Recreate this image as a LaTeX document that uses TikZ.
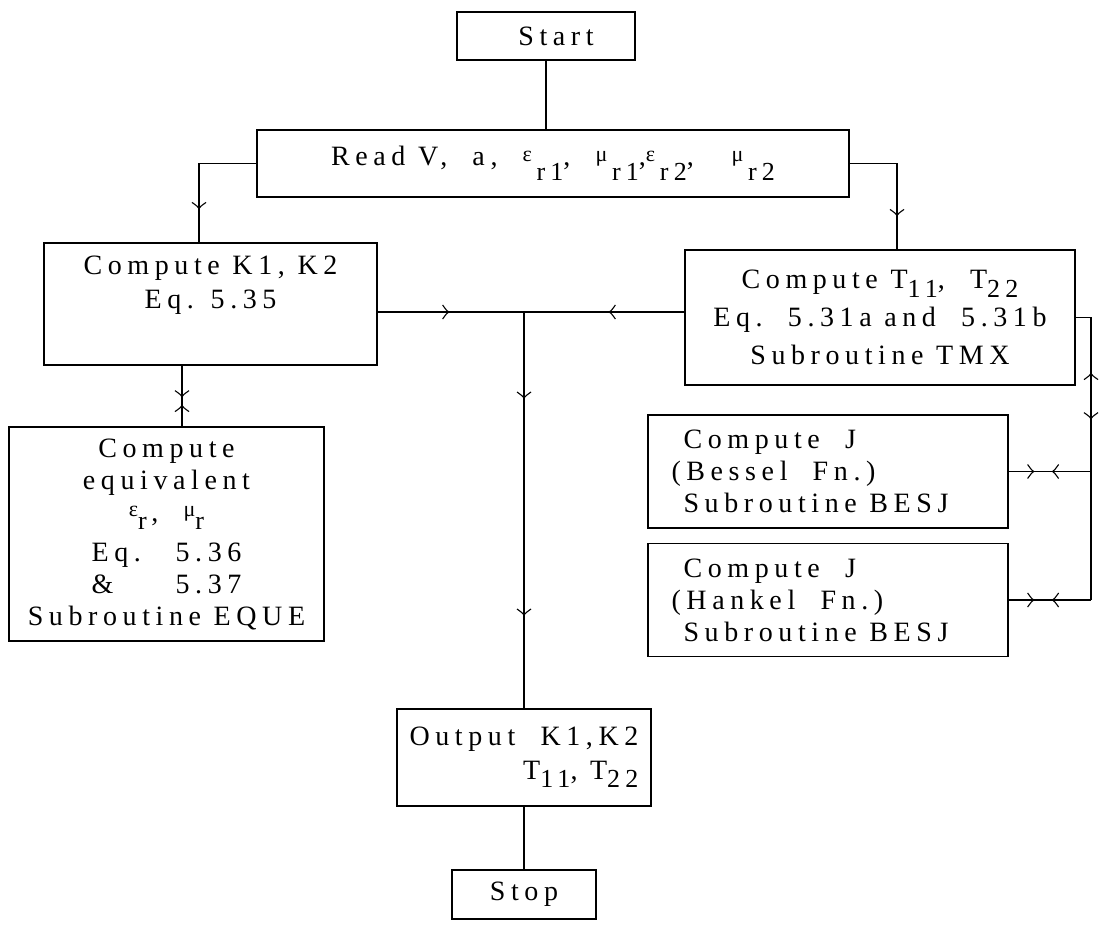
\documentclass[tikz,border=0pt]{standalone}
\usepackage{fontspec}
\setmainfont{Liberation Serif}[LetterSpace=20]
\usepackage{tikz}
\usetikzlibrary{decorations.markings}
\newcommand{\lowsub}[2][0.4em]{\raisebox{-#1}{\fontsize{26}{26}\selectfont #2}}
\newcommand{\grk}[1]{\raisebox{0.15em}{\fontsize{22}{22}\selectfont #1}}

\begin{document}
\begin{tikzpicture}[x=1pt, y=-1pt,
  box/.style={draw, line width=1.2pt, align=center, inner sep=2pt, font=\fontsize{28}{34}\selectfont},
  link/.style={line width=1.1pt},
  fwd/.style={postaction={decorate, decoration={markings, mark=at position #1 with {\draw[line width=1.1pt] (-6pt,-7pt) .. controls (-2pt,-1.5pt) .. (0pt,0pt) .. controls (-2pt,1.5pt) .. (-6pt,7pt);}}}},
  bwd/.style={postaction={decorate, decoration={markings, mark=at position #1 with {\draw[line width=1.1pt] (6pt,-7pt) .. controls (2pt,-1.5pt) .. (0pt,0pt) .. controls (2pt,1.5pt) .. (6pt,7pt);}}}}]
\useasboundingbox (0,0) rectangle (1099,926);
\node[box, minimum width=178pt, minimum height=48pt] (start) at (546,36) {\hspace*{20pt}Start};
\node[box, minimum width=592pt, minimum height=67pt] (read) at (553,163.5) {Read V,\ \ a,\ \ \grk{ε}\,\lowsub[0.55em]{r1},\ \ \grk{μ}\,\lowsub[0.55em]{r1},\grk{ε}\,\lowsub[0.55em]{r2},\ \ \ \grk{μ}\,\lowsub[0.55em]{r2}};
\node[box, minimum width=333pt, minimum height=122pt] (k12) at (210.5,304) {Compute K1,\ K2\\Eq. 5.35\\ \strut};
\node[box, minimum width=390pt, minimum height=135pt, font=\fontsize{28}{38}\selectfont] (tmx) at (880,317.5) {Compute T\lowsub[0.3em]{11},\ \ T\lowsub[0.3em]{22}\\Eq.\ \ 5.31a and\ \ 5.31b\\Subroutine TMX};
\node[box, minimum width=315pt, minimum height=214pt, font=\fontsize{28}{32}\selectfont] (eque) at (166.5,534) {Compute\\equivalent\\\grk{ε}\lowsub[0.3em]{r}\,,\ \ \grk{μ}\lowsub[0.3em]{r}\\[8pt]\makebox[3em][l]{Eq.}5.36\\\makebox[3em][l]{\&}5.37\\Subroutine EQUE};
\node[box, minimum width=360pt, minimum height=113pt, align=left, font=\fontsize{28}{32}\selectfont] (besj) at (828,471.5) {\hspace*{12pt}Compute\ \ J\\(Bessel\ \ Fn.)\\\hspace*{12pt}Subroutine BESJ\hspace*{36pt}};
\node[box, minimum width=360pt, minimum height=113pt, align=left, font=\fontsize{28}{32}\selectfont] (hank) at (828,600) {\hspace*{12pt}Compute\ \ J\\(Hankel\ \ Fn.)\\\hspace*{12pt}Subroutine BESJ\hspace*{36pt}};
\node[box, minimum width=254pt, minimum height=97pt, align=right] (out) at (524,757.5) {Output\ \ K1,K2\\T\lowsub[0.3em]{11},\ T\lowsub[0.3em]{22}};
\node[box, minimum width=144pt, minimum height=49pt] (stop) at (524,894.5) {Stop};
\coordinate (rdl) at (199,163.5);
\coordinate (rdr) at (897,163.5);
\coordinate (kv) at (182,395);
\coordinate (jn) at (524,312);
\coordinate (tc) at (1091,317.5);
\draw[link] (start.south) -- (start.south |- read.north);
\draw[link, fwd=-34pt] (read.west) -- (rdl) -- (rdl |- k12.north);
\draw[link, fwd=-34pt] (read.east) -- (rdr) -- (rdr |- tmx.north);
\draw[link, fwd=31pt, bwd=40pt] (kv |- k12.south) -- (kv |- eque.north);
\draw[link, fwd=71pt] (k12.east |- jn) -- (jn);
\draw[link, fwd=75pt] (tmx.west |- jn) -- (jn);
\draw[link, fwd=86pt, fwd=303pt] (jn) -- (out.north);
\draw[link, bwd=71.5pt, fwd=116.5pt] (tmx.east) -- (tc) -- (tc |- hank.east);
\draw[link, fwd=25pt, bwd=44pt] (besj.east) -- (besj.east -| tc);
\draw[link, fwd=25pt, bwd=44pt] (hank.east) -- (hank.east -| tc);
\draw[link] (out.south) -- (stop.north);
\end{tikzpicture}
\end{document}
